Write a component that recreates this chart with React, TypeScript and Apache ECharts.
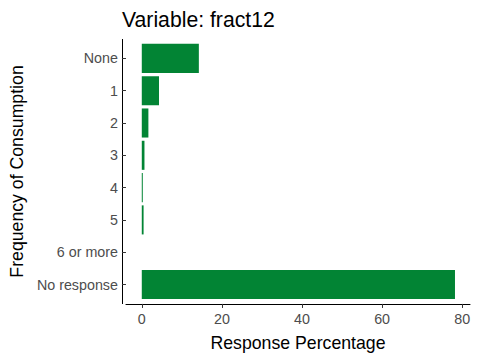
import React, { useEffect, useRef } from "react";
import * as echarts from "echarts";

const categories = ["None", "1", "2", "3", "4", "5", "6 or more", "No response"];
const percentages = [14.25, 4.3, 1.65, 0.67, 0.25, 0.45, 0, 78.2];
const xTicks = [0, 20, 40, 60, 80];

const FONT = "'Liberation Sans', Arial, sans-serif";

export default function App() {
  const ref = useRef<HTMLDivElement>(null);
  useEffect(() => {
    document.body.style.margin = "0";
    if (!ref.current) return;
    const chart = echarts.init(ref.current, null, { renderer: "svg" });
    chart.setOption({
      animation: false,
      backgroundColor: "#ffffff",
      title: {
        text: "Variable: fract12",
        left: 117,
        top: 4,
        textStyle: { fontFamily: FONT, fontSize: 21.2, fontWeight: "normal", color: "#000" },
      },
      grid: { left: 122, right: 10, top: 42.25, height: 258.4 },
      xAxis: {
        type: "value",
        min: -3.95,
        max: 81.95,
        offset: 3.3,
        name: "Response Percentage",
        nameLocation: "middle",
        nameGap: 30,
        nameTextStyle: { fontFamily: FONT, fontSize: 17.7, color: "#000" },
        axisLine: { show: true, onZero: false, lineStyle: { color: "#000", width: 1 } },
        axisTick: { show: true, length: 4, customValues: xTicks, lineStyle: { color: "#333" } },
        axisLabel: {
          customValues: xTicks,
          fontFamily: FONT,
          fontSize: 14.3,
          color: "#4D4D4D",
          margin: 8,
        },
        splitLine: { show: false },
      },
      yAxis: {
        type: "category",
        data: categories,
        inverse: true,
        name: "Frequency of Consumption",
        nameLocation: "middle",
        nameGap: 94,
        nameTextStyle: { fontFamily: FONT, fontSize: 17.7, color: "#000" },
        axisLine: { show: false, onZero: false },
        axisTick: { show: true, alignWithLabel: true, length: 4, lineStyle: { color: "#333" } },
        axisLabel: { fontFamily: FONT, fontSize: 14.3, color: "#4D4D4D", margin: 8 },
        splitLine: { show: false },
      },
      graphic: [
        {
          type: "line",
          shape: { x1: 122.5, y1: 39, x2: 122.5, y2: 304 },
          style: { stroke: "#000", lineWidth: 1 },
        },
      ],
      series: [
        {
          type: "bar",
          data: percentages.map((v) => (v === 0 ? "-" : v)),
          barWidth: "90%",
          itemStyle: { color: "#028434" },
        },
      ],
    });
    return () => chart.dispose();
  }, []);
  return <div ref={ref} style={{ width: 480, height: 360 }} />;
}
